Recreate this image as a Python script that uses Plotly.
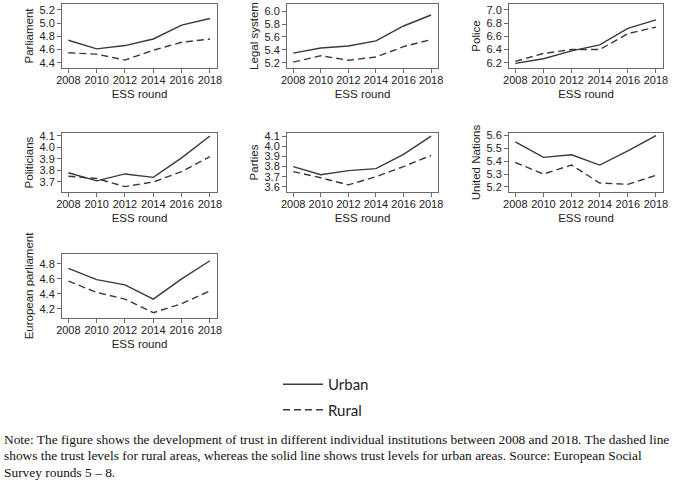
import plotly.graph_objects as go

years = [2008, 2010, 2012, 2014, 2016, 2018]

institutions = ["Parliament", "Legal system", "Police", "Politicians", "Parties",
                "United Nations", "European parliament"]

parliament_urban = [4.74, 4.61, 4.66, 4.76, 4.97, 5.07]
parliament_rural = [4.55, 4.53, 4.44, 4.59, 4.71, 4.76]
legal_urban = [5.35, 5.43, 5.46, 5.54, 5.77, 5.94]
legal_rural = [5.21, 5.31, 5.24, 5.29, 5.45, 5.56]
police_urban = [6.19, 6.26, 6.38, 6.47, 6.72, 6.85]
police_rural = [6.22, 6.34, 6.40, 6.40, 6.64, 6.74]
politicians_urban = [3.78, 3.71, 3.77, 3.74, 3.91, 4.10]
politicians_rural = [3.75, 3.73, 3.66, 3.70, 3.79, 3.92]
parties_urban = [3.80, 3.72, 3.76, 3.78, 3.92, 4.10]
parties_rural = [3.75, 3.69, 3.62, 3.70, 3.80, 3.91]
un_urban = [5.55, 5.43, 5.45, 5.37, 5.48, 5.60]
un_rural = [5.39, 5.30, 5.37, 5.23, 5.22, 5.29]
ep_urban = [4.74, 4.59, 4.52, 4.33, 4.60, 4.84]
ep_rural = [4.57, 4.42, 4.33, 4.15, 4.27, 4.44]

urban_series = [parliament_urban, legal_urban, police_urban, politicians_urban,
                parties_urban, un_urban, ep_urban]
rural_series = [parliament_rural, legal_rural, police_rural, politicians_rural,
                parties_rural, un_rural, ep_rural]

note_lines = [
    "Note: The figure shows the development of trust in different individual institutions between 2008 and 2018. The dashed line",
    "shows the trust levels for rural areas, whereas the solid line shows trust levels for urban areas. Source: European Social",
    "Survey rounds 5 \u2013 8.",
]

W, H = 680, 483
# pixel boxes (x0, x1, y0, y1)
col_x = [(62, 217), (287, 438), (509, 663)]
row_y = [(4, 68), (133, 192), (254, 318)]
yranges = [(4.32, 5.29), (5.12, 6.11), (6.12, 7.09), (3.613, 4.126),
           (3.55, 4.13), (5.16, 5.62), (4.08, 4.93)]
dticks = [0.2, 0.2, 0.2, 0.1, 0.1, 0.1, 0.2]

line_col = "#3a3a3a"
axis_col = "#6b6b6b"
fig = go.Figure()
layout = {}
for i, name in enumerate(institutions):
    r, c = divmod(i, 3)
    n = i + 1
    xa = "x" if n == 1 else f"x{n}"
    ya = "y" if n == 1 else f"y{n}"
    fig.add_trace(go.Scatter(x=years, y=urban_series[i], xaxis=xa, yaxis=ya, mode="lines",
                             line=dict(color=line_col, width=1.4), name="Urban",
                             legendgroup="u", showlegend=(i == 0)))
    fig.add_trace(go.Scatter(x=years, y=rural_series[i], xaxis=xa, yaxis=ya, mode="lines",
                             line=dict(color=line_col, width=1.4, dash="7px,4px"), name="Rural",
                             legendgroup="r", showlegend=(i == 0)))
    x0, x1 = col_x[c]
    y0, y1 = row_y[r]
    axstyle = dict(showline=True, linecolor=axis_col, linewidth=1, mirror=True,
                   ticks="outside", ticklen=4, tickcolor=axis_col, showgrid=False,
                   zeroline=False, automargin=False,
                   tickfont=dict(family="Liberation Sans", size=11, color="#222"))
    layout["xaxis" if n == 1 else f"xaxis{n}"] = dict(
        domain=[x0 / W, x1 / W], anchor=ya, range=[2007.55, 2018.5],
        tickvals=years, tickangle=0, ticklabelstandoff=-2,
        title=dict(text="ESS round", standoff=4,
                   font=dict(family="Liberation Sans", size=11.5, color="#222")),
        **axstyle)
    layout["yaxis" if n == 1 else f"yaxis{n}"] = dict(
        domain=[1 - y1 / H, 1 - y0 / H], anchor=xa, range=list(yranges[i]),
        dtick=dticks[i], tick0=0, tickformat=".1f",
        title=dict(text=name, standoff=3,
                   font=dict(family="Liberation Sans", size=11.5, color="#222")),
        **axstyle)

note_y = [439, 455.5, 472]
annotations = [dict(text=t, x=2 / W, y=1 - yy / H, xref="paper", yref="paper",
                    xanchor="left", yanchor="middle", align="left", showarrow=False,
                    font=dict(family="Liberation Serif", size=13.4, color="#111"))
               for t, yy in zip(note_lines, note_y)]

fig.update_layout(
    width=W, height=H, margin=dict(l=0, r=0, t=0, b=0),
    paper_bgcolor="white", plot_bgcolor="white",
    showlegend=True,
    legend=dict(x=278 / W, y=1 - 368 / H, xanchor="left", yanchor="top",
                font=dict(family="Lato", size=15, color="#222"), tracegroupgap=3,
                itemwidth=40, bgcolor="rgba(0,0,0,0)"),
    annotations=annotations,
    **layout,
)

fig.write_html("out.html", config={"displayModeBar": False},
               post_script="document.body.style.margin='0';")
